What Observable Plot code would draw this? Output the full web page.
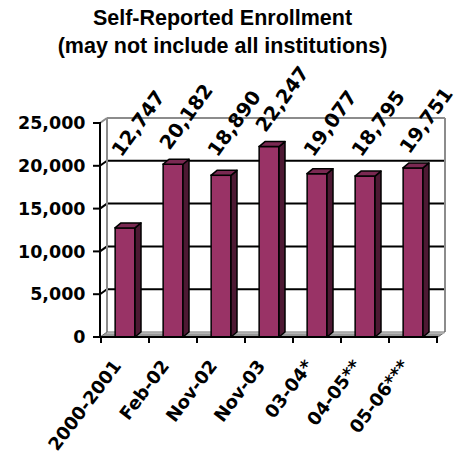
<!DOCTYPE html>
<html><head><meta charset="utf-8">
<script src="https://cdn.jsdelivr.net/npm/d3@7"></script>
<script src="https://cdn.jsdelivr.net/npm/@observablehq/plot@0.6"></script>
<style>
body{margin:0;background:#fff;}
#title{width:445px;height:60px;box-sizing:border-box;padding-top:4px;text-align:center;font:bold 21.5px/28px "Liberation Sans",Arial,sans-serif;color:#000;}
#chart svg{display:block;overflow:visible}
</style></head><body>
<div id="title">Self-Reported Enrollment<br>(may not include all institutions)</div>
<div id="chart"></div>
<script>
// ---- data ----
const categories = ["2000-2001", "Feb-02", "Nov-02", "Nov-03", "03-04*", "04-05**", "05-06***"];
const enrollment = [12747, 20182, 18890, 22247, 19077, 18795, 19751];
const yTicks = [0, 5000, 10000, 15000, 20000, 25000];

// ---- layout ----
const W = 455, H = 398;
const ML = 100, MR = 17, MT = 63, MB = 121;
const WDX = 7, WDY = -5;   // wall depth offset (px)
const BDX = 6, BDY = -5;   // bar depth offset (px)
const BAR_W = 20;
const FRONT = "#993366", SIDE = "#4d1933", TOP = "#7a2952";

const table = categories.map((c, i) => ({cat: c, value: enrollment[i]}));
const fmt = d3.format(",");

function pickScales(args) {
  for (const a of args) if (a && typeof a.x === "function" && typeof a.y === "function") return a;
}
const pts = p => p.map(q => q.join(",")).join(" ");

function walls() {
  const {x, y} = pickScales(arguments);
  const g = d3.create("svg:g");
  const L = ML, R = W - MR, B = y(0), T = y(25000);
  g.append("polygon").attr("points", pts([[L, B], [L + WDX, B + WDY], [L + WDX, T + WDY], [L, T]]))
    .attr("fill", "white");
  g.append("rect").attr("x", L + WDX).attr("y", T + WDY).attr("width", R - L).attr("height", B - T)
    .attr("fill", "white");
  for (const v of yTicks) {
    if (v === 0) continue;
    const yy = y(v);
    const col = v === 25000 ? "#8c8c8c" : "black";
    g.append("line").attr("x1", L).attr("y1", yy).attr("x2", L + WDX).attr("y2", yy + WDY)
      .attr("stroke", col).attr("stroke-width", 2);
    g.append("line").attr("x1", L + WDX).attr("y1", yy + WDY).attr("x2", R + WDX).attr("y2", yy + WDY)
      .attr("stroke", col).attr("stroke-width", 2);
  }
  g.append("line").attr("x1", L + WDX).attr("y1", T + WDY).attr("x2", L + WDX).attr("y2", B + WDY)
    .attr("stroke", "#8c8c8c").attr("stroke-width", 2);
  g.append("line").attr("x1", R + WDX).attr("y1", T + WDY).attr("x2", R + WDX).attr("y2", B + WDY)
    .attr("stroke", "#8c8c8c").attr("stroke-width", 2);
  g.append("polygon").attr("points", pts([[L, B], [L + WDX, B + WDY], [R + WDX, B + WDY], [R, B]]))
    .attr("fill", "#999999").attr("stroke", "#6e6e6e").attr("stroke-width", 1);
  g.append("line").attr("x1", L + WDX).attr("y1", B + WDY + 1).attr("x2", R + WDX).attr("y2", B + WDY + 1)
    .attr("stroke", "#cfcfcf").attr("stroke-width", 1);
  return g.node();
}

function barFaces() {
  const {x, y} = pickScales(arguments);
  const g = d3.create("svg:g");
  const bw = x.bandwidth();
  const B = y(0);
  categories.forEach((c, i) => {
    const cx = x(c) + bw / 2;
    const xl = cx - BAR_W / 2, xr = cx + BAR_W / 2, yt = y(enrollment[i]);
    g.append("polygon").attr("points", pts([[xr, yt], [xr + BDX, yt + BDY], [xr + BDX, B + BDY], [xr, B]]))
      .attr("fill", SIDE).attr("stroke", "black").attr("stroke-width", 1.5).attr("stroke-linejoin", "round");
    g.append("polygon").attr("points", pts([[xl, yt], [xl + BDX, yt + BDY], [xr + BDX, yt + BDY], [xr, yt]]))
      .attr("fill", TOP).attr("stroke", "black").attr("stroke-width", 1.5).attr("stroke-linejoin", "round");
  });
  return g.node();
}

function axes() {
  const {x, y} = pickScales(arguments);
  const g = d3.create("svg:g").attr("stroke", "black").attr("stroke-width", 2);
  const L = ML, R = W - MR, B = y(0), T = y(25000);
  g.append("line").attr("x1", L).attr("y1", T - 1).attr("x2", L).attr("y2", B + 1);
  for (const v of yTicks) g.append("line").attr("x1", L - 7).attr("x2", L).attr("y1", y(v)).attr("y2", y(v));
  g.append("line").attr("x1", L).attr("y1", B).attr("x2", R).attr("y2", B);
  const step = x.step ? x.step() : (R - L) / categories.length;
  for (let k = 0; k <= categories.length; k++) {
    const xx = k < categories.length ? x(categories[k]) : x(categories[k - 1]) + step;
    g.append("line").attr("x1", xx).attr("x2", xx).attr("y1", B).attr("y2", B + 6);
  }
  return g.node();
}

const chart = Plot.plot({
  width: W, height: H,
  marginLeft: ML, marginRight: MR, marginTop: MT, marginBottom: MB,
  style: {fontFamily: "'DejaVu Sans', sans-serif", fontWeight: "bold", fontSize: "18px", color: "black", background: "transparent", overflow: "visible"},
  x: {domain: categories, padding: 0, axis: null},
  y: {domain: [0, 25000], axis: null},
  marks: [
    walls,
    Plot.barY(table, {x: "cat", y: "value", fill: FRONT, stroke: "black", strokeWidth: 1.5,
      insetLeft: (338 / 7 - BAR_W) / 2, insetRight: (338 / 7 - BAR_W) / 2}),
    barFaces,
    axes,
    Plot.text(yTicks, {y: d => d, text: d => fmt(d), frameAnchor: "left", dx: -15,
      textAnchor: "end", fontSize: 17.5, fontWeight: "bold", fill: "black"}),
    Plot.text(categories, {x: d => d, y: () => 0, text: d => d, dx: -8, dy: 25, rotate: -53,
      textAnchor: "end", lineAnchor: "middle", fontSize: 18, fontWeight: "bold", fill: "black"}),
    Plot.text(table, {x: "cat", y: d => Math.max(d.value + 1600, 21000), text: d => fmt(d.value),
      dx: -4, rotate: -54, textAnchor: "start", lineAnchor: "bottom", fontSize: 19.5, fontWeight: "bold", fill: "black"})
  ]
});
document.getElementById("chart").appendChild(chart);
</script>
</body></html>
